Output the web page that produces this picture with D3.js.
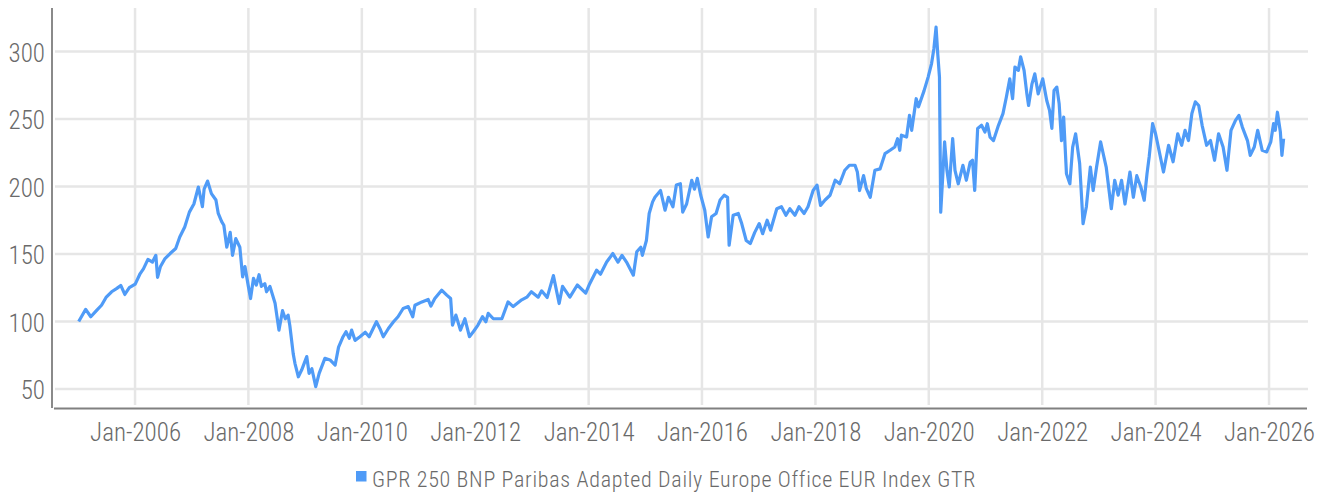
<!DOCTYPE html>
<html>
<head>
<meta charset="utf-8">
<script src="https://cdn.jsdelivr.net/npm/d3@7"></script>
<style>
  html, body { margin: 0; padding: 0; background: #fff; }
  svg text { font-family: 'Liberation Sans Narrow', 'Roboto Condensed', 'DejaVu Sans Condensed', Roboto, sans-serif; fill: #6a6a6a; font-weight: 300; }
</style>
</head>
<body>
<div id="chart"></div>
<script>
// series name shown in legend
const seriesName = "GPR 250 BNP Paribas Adapted Daily Europe Office EUR Index GTR";

// roughly 2-4 points per month
const dates = [
  "2005-01-03","2005-02-17","2005-03-22","2005-04-27","2005-05-30","2005-06-28","2005-08-03","2005-09-06","2005-10-01","2005-10-27","2005-11-25",
  "2006-01-02","2006-02-03","2006-02-24","2006-03-25","2006-04-23","2006-05-15","2006-05-26","2006-06-13","2006-07-13","2006-08-15","2006-09-20","2006-10-16","2006-11-17","2006-12-17",
  "2007-01-15","2007-02-13","2007-03-11","2007-03-22","2007-04-13","2007-05-08","2007-06-06","2007-06-21","2007-07-13","2007-07-27","2007-08-15","2007-09-06","2007-09-21","2007-10-12","2007-11-07","2007-11-25","2007-12-10",
  "2008-01-01","2008-01-15","2008-02-03","2008-02-21","2008-03-10","2008-03-25","2008-04-16","2008-04-27","2008-05-19","2008-06-21","2008-07-16","2008-08-08","2008-08-26","2008-09-13","2008-09-24","2008-10-16","2008-10-27","2008-11-18","2008-12-09",
  "2009-01-11","2009-01-26","2009-02-13","2009-03-10","2009-04-01","2009-05-08","2009-06-10","2009-07-13","2009-08-04","2009-09-02","2009-09-21","2009-10-12","2009-10-27","2009-11-18","2009-12-20",
  "2010-01-23","2010-02-17","2010-04-05","2010-04-27","2010-05-19","2010-06-21","2010-07-24","2010-08-22","2010-09-24","2010-10-27","2010-11-25","2010-12-09",
  "2011-01-23","2011-03-04","2011-03-22","2011-04-16","2011-05-30","2011-07-02","2011-07-27","2011-08-08","2011-08-30","2011-09-28","2011-10-27","2011-11-25","2011-12-20",
  "2012-01-19","2012-02-17","2012-03-10","2012-03-25","2012-04-27","2012-06-21","2012-07-31","2012-09-02","2012-10-27","2012-11-29","2012-12-28",
  "2013-02-10","2013-03-04","2013-04-09","2013-05-19","2013-06-25","2013-07-17","2013-09-02","2013-10-20","2013-12-13",
  "2014-01-08","2014-02-21","2014-03-18","2014-04-27","2014-06-06","2014-07-09","2014-08-04","2014-09-02","2014-10-16","2014-11-07","2014-12-03","2014-12-13",
  "2015-01-08","2015-01-26","2015-02-17","2015-03-04","2015-04-09","2015-05-08","2015-05-30","2015-06-28","2015-07-20","2015-08-15","2015-08-30","2015-09-24","2015-10-27","2015-11-14","2015-12-02","2015-12-24",
  "2016-01-19","2016-02-10","2016-03-03","2016-04-01","2016-04-27","2016-05-23","2016-06-14","2016-06-24","2016-07-20","2016-08-22","2016-09-13","2016-10-12","2016-11-07","2016-12-06",
  "2017-01-04","2017-01-26","2017-02-24","2017-03-18","2017-04-27","2017-05-27","2017-06-25","2017-07-20","2017-08-22","2017-09-17","2017-10-20","2017-11-14","2017-12-17",
  "2018-01-11","2018-02-03","2018-03-04","2018-04-05","2018-05-08","2018-06-06","2018-07-09","2018-08-08","2018-09-13","2018-09-28","2018-10-12","2018-11-07","2018-11-25","2018-12-20",
  "2019-01-19","2019-02-21","2019-03-25","2019-04-27","2019-05-27","2019-06-14","2019-06-28","2019-07-09","2019-08-11","2019-08-30","2019-09-13","2019-10-12","2019-10-27","2019-12-02","2019-12-28",
  "2020-01-19","2020-02-03","2020-02-17","2020-02-28","2020-03-10","2020-03-18","2020-04-01","2020-04-12","2020-04-27","2020-05-12","2020-06-03","2020-06-18","2020-07-09","2020-08-08","2020-08-30","2020-09-24","2020-10-09","2020-10-23","2020-11-11","2020-12-06","2020-12-28",
  "2021-01-12","2021-01-30","2021-02-21","2021-03-25","2021-04-23","2021-05-15","2021-06-06","2021-06-24","2021-07-09","2021-07-31","2021-08-15","2021-09-06","2021-09-24","2021-10-05","2021-10-27","2021-11-14","2021-12-06",
  "2022-01-04","2022-01-30","2022-02-17","2022-03-04","2022-03-18","2022-04-05","2022-04-20","2022-05-05","2022-05-19","2022-06-06","2022-06-28","2022-07-16","2022-08-04","2022-08-30","2022-09-21","2022-10-12","2022-11-07","2022-11-25","2022-12-17",
  "2023-01-12","2023-01-26","2023-02-17","2023-03-22","2023-04-13","2023-05-05","2023-05-27","2023-06-18","2023-07-20","2023-08-11","2023-09-02","2023-09-28","2023-10-20","2023-11-07","2023-11-21","2023-12-13",
  "2024-01-01","2024-01-19","2024-02-21","2024-03-25","2024-04-23","2024-05-23","2024-06-17","2024-07-09","2024-07-31","2024-08-22","2024-09-13","2024-10-05","2024-10-27","2024-11-25","2024-12-20",
  "2025-01-15","2025-02-10","2025-03-11","2025-04-05","2025-05-01","2025-05-30","2025-06-21","2025-07-13","2025-08-15","2025-09-02","2025-09-28","2025-10-20","2025-11-18","2025-12-17",
  "2026-01-12","2026-01-30","2026-02-10","2026-02-24","2026-03-15","2026-03-25","2026-04-05"
];

const values = [
  100,109,103.5,108,112,117.8,122,124.5,126.7,120,125,
  127.7,135.5,139,146,144,149,132.6,140.5,146.6,150.3,154,162.6,170,181,
  187,199.6,185,198,204,194.7,190,180,174,171.3,155,166,149,161.4,155,133,140.7,
  126,117,132,127,134.6,126,128,122,126,113.5,93.6,108,102,104.7,97,76,69,59,64,
  74,61.6,65,51.7,61.6,72.7,71.5,67.7,81,88.7,92.4,87.5,93.6,86,88.7,
  92,88.7,99.8,94.8,88.7,94.8,99.8,103.5,109.6,111,103.5,112,
  114.5,116.3,111.4,117,123.2,119.5,117,97.3,104.7,93.6,102,88.7,92.4,
  97.3,103.5,99.8,106,102,102,114.5,111,116,118,122,
  118,122.7,117.8,134,113.3,126,118,127,121,
  128,138,135,144,150.3,144,149,144,134.3,151.6,155,149,
  160,180,188.6,192,197,182.4,192,185,201,202,181,187,204.6,198,206,193.5,
  182.4,162.6,177.5,180,190,193.5,192,156.5,178.7,180,172.5,160,157.7,166,
  172.5,165,175,167.6,183.5,185,178.7,183.5,178.7,185,180,185,197,
  201,186,190,193.5,204.6,202,212,215.7,215.7,210.7,197,208,198.4,192,
  212,213,224.3,226.8,229.2,235.4,226.8,238,236.6,252.7,241.6,265,259,271,281,
  291,302,318,298,281,181,209.5,233,212,199.6,235.4,212,202,215.7,204.6,218,219.4,197,243,245.3,240.3,
  246.5,236.6,234,245.3,254,266.3,279.7,265,288.5,286,296,286,268.6,260,276,283.4,268.6,
  279.7,263.7,256.4,243,271,273.6,261.2,234,251.4,209.5,202,229.2,239,217,172.5,184.8,214.4,197,214.4,
  233,225.7,214.4,183.5,204.6,193.5,204.6,187,210.7,192,208,199.6,189.8,209.5,222,246.5,
  239,229.2,210.7,230.5,218.3,239,230.5,241.6,234,254,262.7,260,245.3,230.5,234,
  219.4,239,229.2,212,241.6,249,252.7,244,234,223,229.2,241.6,226.8,225.6,
  233,246.5,241.6,255,240.3,223,235.4
];

const yTicks = [50, 100, 150, 200, 250, 300];
const xDomain = ["2004-07-15", "2026-09-09"];
const yDomain = [35.9, 332.2];

const lineColor = "#4f9bf7";
const gridColor = "#e6e6e6";

const W = 1325, H = 493;
const margin = { top: 8, right: 17, bottom: 85, left: 52 };
const innerW = W - margin.left - margin.right;
const innerH = H - margin.top - margin.bottom;

const parse = d3.timeParse("%Y-%m-%d");
const data = dates.map((d, i) => ({ date: parse(d), value: values[i] }));

const svg = d3.select("#chart").append("svg")
  .attr("width", W)
  .attr("height", H);

const g = svg.append("g")
  .attr("transform", `translate(${margin.left},${margin.top})`);

const x = d3.scaleTime()
  .domain(xDomain.map(parse))
  .range([0, innerW]);

const y = d3.scaleLinear()
  .domain(yDomain)
  .range([innerH, 0]);

const xTicks = d3.timeYear.every(2).range(parse("2006-01-01"), parse("2026-06-01"));

// grid lines
g.append("g").selectAll("line.hgrid")
  .data(yTicks).enter().append("line")
  .attr("class", "hgrid")
  .attr("x1", 3).attr("x2", innerW)
  .attr("y1", d => y(d)).attr("y2", d => y(d))
  .attr("stroke", gridColor).attr("stroke-width", 2.5);

g.append("g").selectAll("line.vgrid")
  .data(xTicks).enter().append("line")
  .attr("class", "vgrid")
  .attr("x1", d => x(d)).attr("x2", d => x(d))
  .attr("y1", 0).attr("y2", innerH - 3)
  .attr("stroke", gridColor).attr("stroke-width", 2.5);

// axis-y
const yAxis = g.append("g")
  .call(d3.axisLeft(y).tickValues(yTicks).tickSize(0).tickPadding(7));
yAxis.select(".domain").remove();
yAxis.selectAll("text")
  .attr("dy", "0.4em")
  .style("font-size", "25px");

// axis-x
const xAxis = g.append("g")
  .attr("transform", `translate(0,${innerH})`)
  .call(d3.axisBottom(x).tickValues(xTicks).tickFormat(d3.timeFormat("%b-%Y")).tickSize(0).tickPadding(15));
xAxis.select(".domain").remove();
xAxis.selectAll("text")
  .attr("dy", "0.71em")
  .style("font-size", "25px");

// axis lines
g.append("line")
  .attr("x1", 0).attr("x2", 0)
  .attr("y1", 0).attr("y2", innerH)
  .attr("stroke", "#8a8a8a").attr("stroke-width", 2);
g.append("line")
  .attr("x1", 2).attr("x2", innerW - 1)
  .attr("y1", innerH + 0.5).attr("y2", innerH + 0.5)
  .attr("stroke", "#808080").attr("stroke-width", 2);

// line
const line = d3.line()
  .x(d => x(d.date))
  .y(d => y(d.value));

g.append("path")
  .datum(data)
  .attr("fill", "none")
  .attr("stroke", lineColor)
  .attr("stroke-width", 3.2)
  .attr("stroke-linejoin", "round")
  .attr("d", line);

// legend
const legend = svg.append("g")
  .attr("transform", `translate(356,471)`);
legend.append("rect")
  .attr("width", 10.5).attr("height", 10.5)
  .attr("fill", lineColor);
legend.append("text")
  .attr("x", 16).attr("y", 15.5)
  .style("font-size", "22px")
  .style("letter-spacing", "0.7px")
  .text(seriesName);
</script>
</body>
</html>
